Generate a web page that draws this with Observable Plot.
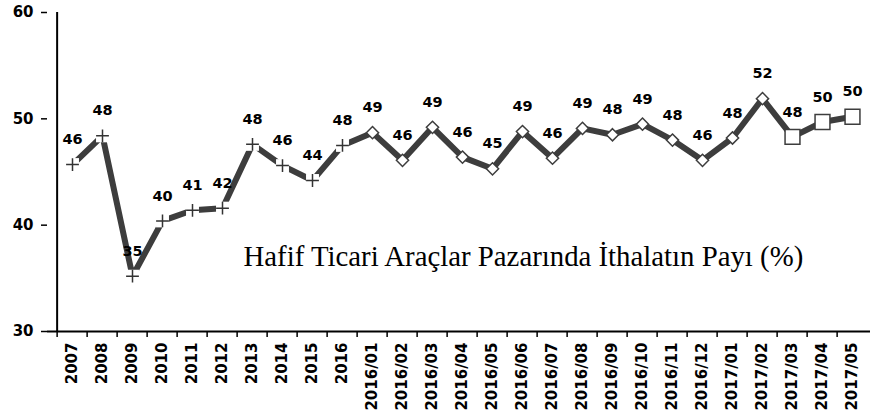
<!DOCTYPE html>
<html>
<head>
<meta charset="utf-8">
<script src="https://cdn.jsdelivr.net/npm/d3@7"></script>
<script src="https://cdn.jsdelivr.net/npm/@observablehq/plot@0.6"></script>
<style>
  html, body { margin: 0; padding: 0; background: #fff; }
</style>
</head>
<body>
<div id="chart"></div>
<script>
// ---- data ----
const annualYears = ["2007","2008","2009","2010","2011","2012","2013","2014","2015","2016"];
const months2016 = ["2016/01","2016/02","2016/03","2016/04","2016/05","2016/06","2016/07","2016/08","2016/09","2016/10","2016/11","2016/12"];
const months2017 = ["2017/01","2017/02","2017/03","2017/04","2017/05"];
const categories = [...annualYears, ...months2016, ...months2017];

const shareValues = [45.7, 48.4, 35.2, 40.4, 41.4, 41.6, 47.6, 45.6, 44.2, 47.5,
                     48.7, 46.1, 49.2, 46.4, 45.3, 48.8, 46.3, 49.1, 48.5, 49.5, 48.0, 46.1,
                     48.2, 51.9, 48.3, 49.7, 50.2];
const shareLabels = [46, 48, 35, 40, 41, 42, 48, 46, 44, 48,
                     49, 46, 49, 46, 45, 49, 46, 49, 48, 49, 48, 46,
                     48, 52, 48, 50, 50];
const squareMonths = ["2017/03","2017/04","2017/05"];
const yTicks = [30, 40, 50, 60];
const titleText = "Hafif Ticari Araçlar Pazarında İthalatın Payı (%)";

// ---- table ----
const data = categories.map((c, i) => ({cat: c, value: shareValues[i], label: shareLabels[i]}));
const annual = data.filter(d => annualYears.includes(d.cat));
const squares = data.filter(d => squareMonths.includes(d.cat));
const diamonds = data.filter(d => !annualYears.includes(d.cat) && !squareMonths.includes(d.cat));

const x0 = 47, x1 = 877;
const bw = (x1 - x0) / categories.length;
const lineColor = "#3d3d3d";

const chart = Plot.plot({
  width: 870,
  height: 418,
  marginTop: 12,
  marginBottom: 87,
  marginLeft: 47,
  marginRight: 0,
  x: {type: "band", domain: categories, range: [x0, x1], padding: 0, label: null},
  y: {domain: [30, 60], range: [331, 12], label: null},
  style: {fontFamily: "DejaVu Sans, Verdana, sans-serif", fontWeight: "bold", fontSize: "14px", color: "#000", background: "#fff"},
  marks: [
    Plot.axisY({ticks: yTicks, tickSize: 6, tickPadding: 8, fontSize: 15, strokeWidth: 1.5, label: null}),
    Plot.axisX({tickSize: 6, tickFormat: () => "", dx: -bw / 2, strokeWidth: 1.5, label: null}),
    Plot.axisX({tickSize: 0, tickRotate: -90, tickPadding: 11, fontSize: 15, label: null}),
    Plot.ruleY([30], {stroke: "#000", strokeWidth: 2}),
    Plot.ruleX([categories[0]], {dx: -bw / 2, stroke: "#000", strokeWidth: 2}),
    Plot.line(data, {x: "cat", y: "value", stroke: lineColor, strokeWidth: 6, strokeLinejoin: "miter"}),
    Plot.dot(annual, {x: "cat", y: "value", symbol: "square", r: 7.3, fill: "#fff", stroke: "none"}),
    Plot.dot(annual, {x: "cat", y: "value", symbol: "plus", r: 4.2, stroke: "#333", strokeWidth: 1.5}),
    Plot.dot(diamonds, {x: "cat", y: "value", symbol: "diamond2", r: 5.5, fill: "#fff", stroke: lineColor, strokeWidth: 1.5}),
    Plot.dot(squares, {x: "cat", y: "value", symbol: "square", r: 8.4, fill: "#fff", stroke: lineColor, strokeWidth: 1.5}),
    Plot.text(data, {x: "cat", y: "value", text: "label", dy: -25, fontSize: 14.5, fontWeight: "bold", fill: "#000"}),
    Plot.text([titleText], {frameAnchor: "bottom-left", textAnchor: "start", dx: 196, dy: -66,
      fontFamily: "Liberation Serif, Times New Roman, serif", fontWeight: "normal", fontSize: 28.8, fill: "#000"})
  ]
});
document.getElementById("chart").append(chart);
</script>
</body>
</html>
